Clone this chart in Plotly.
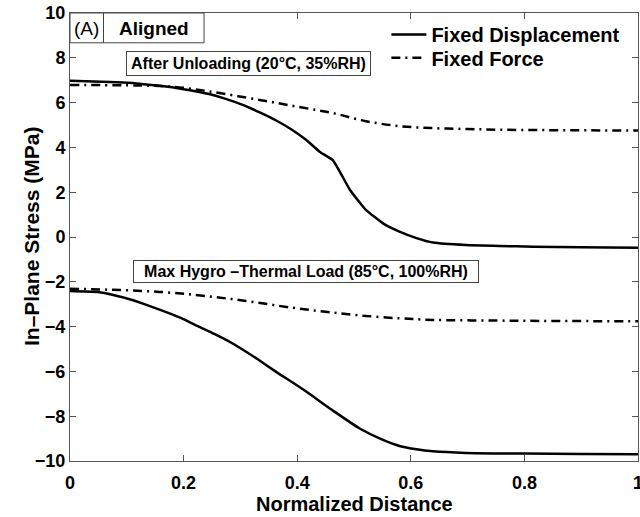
import plotly.graph_objects as go

# ---- data ----
x_disp_unload = [0, 0.07, 0.11, 0.158, 0.2, 0.245, 0.27, 0.304, 0.335, 0.363, 0.39, 0.415, 0.44, 0.463,
                 0.493, 0.521, 0.551, 0.58, 0.61, 0.639, 0.697, 0.756, 0.815, 0.9, 1.0]
y_disp_unload = [6.97, 6.92, 6.87, 6.75, 6.6, 6.38, 6.2, 5.9, 5.55, 5.2, 4.8, 4.35, 3.8, 3.42,
                 2.1, 1.21, 0.61, 0.24, -0.05, -0.25, -0.36, -0.40, -0.43, -0.46, -0.48]

x_force_unload = [0, 0.1, 0.158, 0.2, 0.245, 0.334, 0.404, 0.463, 0.521, 0.58, 0.639, 0.7, 0.756, 0.85, 1.0]
y_force_unload = [6.79, 6.77, 6.74, 6.66, 6.5, 6.12, 5.8, 5.53, 5.17, 4.95, 4.86, 4.82, 4.79, 4.77, 4.75]

x_disp_load = [0, 0.049, 0.078, 0.108, 0.137, 0.166, 0.196, 0.225, 0.254, 0.284, 0.31, 0.33, 0.363, 0.41,
               0.463, 0.51, 0.55, 0.58, 0.61, 0.639, 0.697, 0.8, 0.9, 1.0]
y_disp_load = [-2.41, -2.46, -2.6, -2.8, -3.05, -3.32, -3.62, -3.98, -4.33, -4.72, -5.12, -5.45, -6.02, -6.8,
               -7.75, -8.55, -9.05, -9.33, -9.48, -9.57, -9.64, -9.67, -9.69, -9.70]

x_force_load = [0, 0.158, 0.284, 0.392, 0.45, 0.51, 0.58, 0.639, 0.75, 0.85, 1.0]
y_force_load = [-2.31, -2.45, -2.77, -3.16, -3.34, -3.5, -3.63, -3.70, -3.73, -3.75, -3.76]

x_ticks = [0, 0.2, 0.4, 0.6, 0.8, 1]
y_ticks = [-10, -8, -6, -4, -2, 0, 2, 4, 6, 8, 10]

FONT = "Liberation Sans, Arial, Helvetica, sans-serif"
DASHDOT = "9px,5px,2px,5px"

fig = go.Figure()
fig.add_trace(go.Scatter(x=x_disp_unload, y=y_disp_unload, mode="lines", name="Fixed Displacement",
                         line=dict(color="black", width=2.5, shape="spline", smoothing=0.4),
                         legendgroup="d", legend="legend"))
fig.add_trace(go.Scatter(x=x_force_unload, y=y_force_unload, mode="lines", name="Fixed Force",
                         line=dict(color="black", width=2.5, dash=DASHDOT, shape="spline"),
                         legendgroup="f", legend="legend2"))
fig.add_trace(go.Scatter(x=x_disp_load, y=y_disp_load, mode="lines", name="Fixed Displacement",
                         line=dict(color="black", width=2.5, shape="spline", smoothing=0.6), legendgroup="d",
                         showlegend=False))
fig.add_trace(go.Scatter(x=x_force_load, y=y_force_load, mode="lines", name="Fixed Force",
                         line=dict(color="black", width=2.5, dash=DASHDOT, shape="spline"), legendgroup="f",
                         showlegend=False))

axis_common = dict(showline=True, linecolor="#555555", linewidth=1, mirror="ticks",
                   ticks="inside", ticklen=6, tickcolor="#555555", showgrid=False, zeroline=False,
                   automargin=False, ticklabeloverflow="allow",
                   tickfont=dict(family=FONT, size=18, color="black", weight="bold"))

fig.update_xaxes(range=[0, 1], tickvals=x_ticks, ticktext=["0", "0.2", "0.4", "0.6", "0.8", "1"],
                 ticklabelstandoff=5, **axis_common)
fig.update_yaxes(range=[-10, 10], tickvals=y_ticks, ticklabelstandoff=0, **axis_common)

# axis titles placed as text
fig.add_annotation(xref="paper", yref="paper", x=0, y=0.5, xshift=-39, text="In–Plane Stress (MPa)",
                   textangle=-90, showarrow=False, xanchor="center", yanchor="middle",
                   font=dict(family=FONT, size=21, color="black", weight="bold"))
fig.add_annotation(xref="paper", yref="paper", x=0.5, y=0, yshift=-43, text="Normalized Distance",
                   showarrow=False, xanchor="center", yanchor="middle",
                   font=dict(family=FONT, size=20, color="black", weight="bold"))

# label box "(A) | Aligned"
fig.add_shape(type="rect", xref="x", yref="y", x0=0, x1=0.236, y0=8.67, y1=10,
              line=dict(color="#444444", width=1), fillcolor="white", layer="above")
fig.add_shape(type="line", xref="x", yref="y", x0=0.059, x1=0.059, y0=8.67, y1=10,
              line=dict(color="#444444", width=1), layer="above")
fig.add_annotation(x=0.0295, y=9.33, xref="x", yref="y", text="(A)", showarrow=False,
                   font=dict(family=FONT, size=19, color="black"))
fig.add_annotation(x=0.1475, y=9.33, xref="x", yref="y", text="Aligned", showarrow=False,
                   font=dict(family=FONT, size=19, color="black", weight="bold"))

fig.add_annotation(x=0.315, y=7.76, xref="x", yref="y", text="After Unloading (20°C, 35%RH)",
                   showarrow=False, bordercolor="#444444", borderwidth=1, borderpad=1, width=241, height=21,
                   bgcolor="white", font=dict(family=FONT, size=16, color="black", weight="bold"))
fig.add_annotation(x=0.416, y=-1.54, xref="x", yref="y", text="Max Hygro –Thermal Load (85°C, 100%RH)",
                   showarrow=False, bordercolor="#444444", borderwidth=1, borderpad=1, width=342, height=19,
                   bgcolor="white", font=dict(family=FONT, size=16, color="black", weight="bold"))

legend_style = dict(xanchor="left", yanchor="middle", bgcolor="rgba(0,0,0,0)",
                    font=dict(family=FONT, size=20, color="black", weight="bold"), itemwidth=35)

fig.update_layout(
    width=640, height=517,
    margin=dict(l=70, r=2, t=13, b=56, autoexpand=False),
    paper_bgcolor="white", plot_bgcolor="white",
    showlegend=True,
    legend=dict(x=0.557, y=0.952, **legend_style),
    legend2=dict(x=0.557, y=0.900, **legend_style),
)

fig.write_html("out.html", config={"displayModeBar": False},
               post_script="document.body.style.margin='0px';")
